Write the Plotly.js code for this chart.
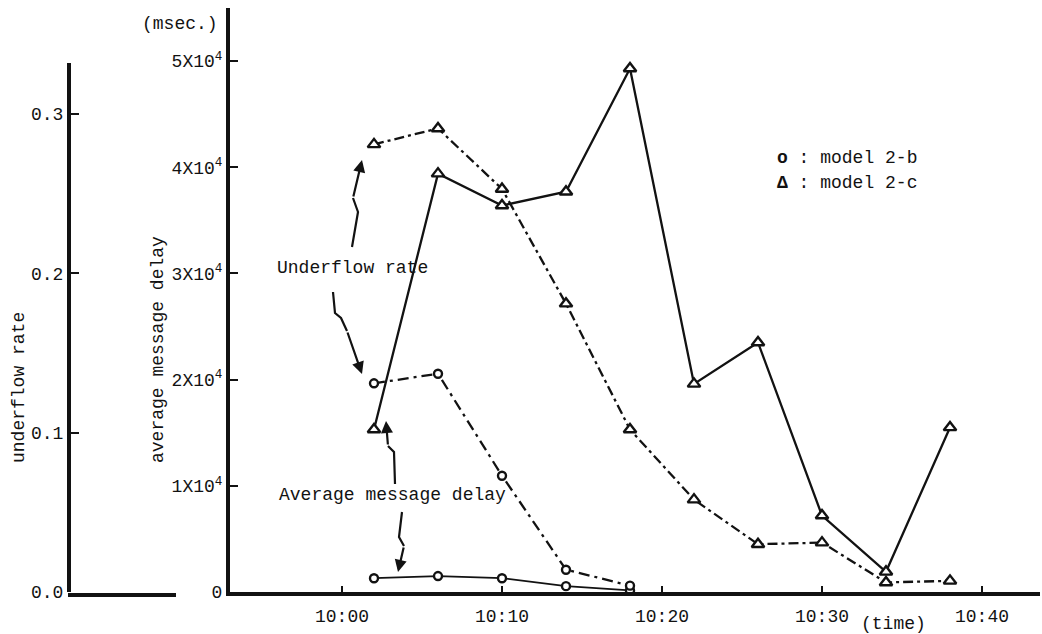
<!DOCTYPE html>
<html>
<head>
<meta charset="utf-8">
<script src="https://cdn.plot.ly/plotly-3.0.1.min.js"></script>
<style>html,body{margin:0;padding:0;background:#fff;}#chart{width:1042px;height:634px;}</style>
</head>
<body>
<div id="chart"></div>
<script>
// ---- data (minutes after 10:00) ----
const minutes = [2, 6, 10, 14, 18, 22, 26, 30, 34, 38];
const delayModel2c = [15300, 39400, 36400, 37700, 49300, 19600, 23500, 7200, 1900, 15500];
const underflowModel2c = [0.281, 0.291, 0.253, 0.181, 0.102, 0.058, 0.030, 0.031, 0.006, 0.007];
const minutes2b = [2, 6, 10, 14, 18];
const underflowModel2b = [0.131, 0.137, 0.073, 0.014, 0.004];
const delayModel2b = [1300, 1500, 1300, 550, 150];

const xTickVals = [0, 10, 20, 30, 40];
const xTickText = ['10:00', '10:10', '10:20', '10:30', '10:40'];
const delayTickVals = [0, 10000, 20000, 30000, 40000, 50000];
const delayTickText = ['0', '1X10<sup>4</sup>', '2X10<sup>4</sup>', '3X10<sup>4</sup>', '4X10<sup>4</sup>', '5X10<sup>4</sup>'];
const underflowTickVals = [0, 0.1, 0.2, 0.3];
const underflowTickText = ['0.0', '0.1', '0.2', '0.3'];

// ---- layout helpers (page pixels -> paper fractions) ----
const W = 1042, H = 634, MT = 8, MB = 42;
const PH = H - MT - MB;
const BASE = H - MB;
const fx = p => p / W;
const fy = p => (BASE - p) / PH;

const INK = '#121212';
const FONT = 'Liberation Mono, Courier New, DejaVu Sans Mono, monospace';
const FS = 18;

const triMarker = {symbol: 'triangle-up', size: 11, color: '#fff', line: {color: INK, width: 2.4}};
const circMarker = {symbol: 'circle', size: 8, color: '#fff', line: {color: INK, width: 2.4}};

const traces = [
  {x: minutes, y: delayModel2c, xaxis: 'x', yaxis: 'y', mode: 'lines+markers', name: 'model 2-c delay',
   line: {color: INK, width: 2.3}, marker: triMarker},
  {x: minutes, y: underflowModel2c, xaxis: 'x', yaxis: 'y2', mode: 'lines+markers', name: 'model 2-c underflow',
   line: {color: INK, width: 2.3, dash: '10px,4px,3px,4px'}, marker: triMarker},
  {x: minutes2b, y: underflowModel2b, xaxis: 'x', yaxis: 'y2', mode: 'lines+markers', name: 'model 2-b underflow',
   line: {color: INK, width: 2.3, dash: '11px,5px,3px,5px'}, marker: circMarker},
  {x: minutes2b, y: delayModel2b, xaxis: 'x', yaxis: 'y', mode: 'lines+markers', name: 'model 2-b delay',
   line: {color: INK, width: 1.8}, marker: circMarker}
];

// squiggly pointer arrows (pixel paths), last segment is drawn as annotation arrow
const pointers = [
  [[352, 247], [358, 212], [353, 198], [362, 160]],
  [[333, 292], [335, 313], [341, 318], [347, 331], [362, 374]],
  [[395, 484], [394, 452], [388, 446], [386, 421]],
  [[402, 512], [399, 537], [404, 546], [398, 572]]
];

const shapes = [
  {type: 'line', xref: 'paper', yref: 'paper', x0: fx(68), x1: fx(176), y0: fy(595), y1: fy(595),
   line: {color: INK, width: 4}}
];
const annotations = [];
pointers.forEach(pts => {
  const body = pts.slice(0, pts.length - 1);
  let path = '';
  body.forEach((p, i) => { path += (i === 0 ? 'M ' : ' L ') + fx(p[0]) + ' ' + fy(p[1]); });
  const tail = pts[pts.length - 2], head = pts[pts.length - 1];
  if (body.length > 1) {
    shapes.push({type: 'path', xref: 'paper', yref: 'paper', path: path, line: {color: INK, width: 2.2}});
  }
  annotations.push({xref: 'paper', yref: 'paper', x: fx(head[0]), y: fy(head[1]),
    ax: tail[0] - head[0], ay: tail[1] - head[1], axref: 'pixel', ayref: 'pixel',
    text: '', showarrow: true, arrowhead: 2, arrowsize: 1.1, arrowwidth: 2.2, arrowcolor: INK, standoff: 0});
});

const textFont = {family: FONT, size: FS, color: INK};
function label(text, x, y, opts) {
  return Object.assign({xref: 'paper', yref: 'paper', x: fx(x), y: fy(y), text: text, showarrow: false,
    font: textFont, xanchor: 'center', yanchor: 'middle'}, opts || {});
}
annotations.push(
  label('average message delay', 158, 350, {textangle: -90}),
  label('underflow rate', 19, 388, {textangle: -90}),
  label('(msec.)', 180, 24),
  label('(time)', 893, 624),
  label('Underflow rate', 352, 268),
  label('Average message delay', 392, 495),
  label('<b>o</b> : model 2-b', 775, 158, {xanchor: 'left'}),
  label('<b>Δ</b> : model 2-c', 775, 183, {xanchor: 'left'})
);

const layout = {
  width: W, height: H,
  margin: {l: 0, r: 0, t: MT, b: MB, pad: 0},
  paper_bgcolor: '#ffffff',
  plot_bgcolor: 'rgba(0,0,0,0)',
  showlegend: false,
  font: {family: FONT, size: FS, color: INK},
  xaxis: {
    domain: [fx(230), fx(1040)], range: [-7, 43.625], anchor: 'y',
    tickmode: 'array', tickvals: xTickVals, ticktext: xTickText,
    ticks: 'inside', ticklen: 6, tickwidth: 2, tickcolor: INK, ticklabelstandoff: 4,
    showline: true, linewidth: 4, linecolor: INK, showgrid: false, zeroline: false,
    tickfont: {family: FONT, size: FS, color: INK}
  },
  yaxis: {
    domain: [0, 1], range: [0, 55000], anchor: 'x',
    tickmode: 'array', tickvals: delayTickVals, ticktext: delayTickText,
    ticks: 'inside', ticklen: 8, tickwidth: 2, tickcolor: INK,
    showline: true, linewidth: 4, linecolor: INK, showgrid: false, zeroline: false,
    tickfont: {family: FONT, size: FS, color: INK}
  },
  yaxis2: {
    domain: [0, fy(63)], range: [0, (BASE - 63) / 1593], anchor: 'free', position: fx(68), side: 'left',
    tickmode: 'array', tickvals: underflowTickVals, ticktext: underflowTickText,
    ticks: 'inside', ticklen: 8, tickwidth: 2, tickcolor: INK,
    showline: true, linewidth: 3.5, linecolor: INK, showgrid: false, zeroline: false,
    tickfont: {family: FONT, size: FS, color: INK}
  },
  shapes: shapes,
  annotations: annotations
};

Plotly.newPlot('chart', traces, layout, {displayModeBar: false, staticPlot: true});
</script>
</body>
</html>
